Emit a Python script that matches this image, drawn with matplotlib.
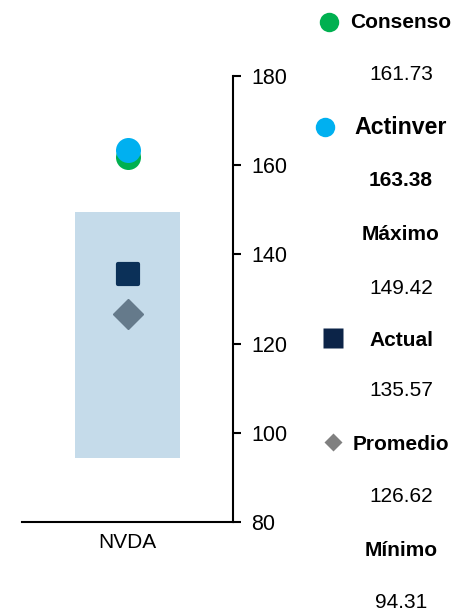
import matplotlib
matplotlib.use('Agg')
import matplotlib.pyplot as plt
from matplotlib.markers import MarkerStyle

plt.rcParams['font.family'] = ['Liberation Sans', 'DejaVu Sans']

# data
ticker = 'NVDA'
labels = ['Consenso', 'Actinver', 'Máximo', 'Actual', 'Promedio', 'Mínimo']
values = [161.73, 163.38, 149.42, 135.57, 126.62, 94.31]
consenso, actinver, maximo, actual, promedio, minimo = values
y_ticks = [80, 100, 120, 140, 160, 180]

c_green = '#00B050'
c_blue = '#00B0F0'
c_box = '#C5DBEA'
c_navy = '#0B3058'
c_diamond = '#657A8B'

fig = plt.figure(figsize=(4.67, 6.13), dpi=100)
ax = fig.add_axes([22 / 467, 1 - 522 / 613, 211 / 467, 446 / 613])

# range box min..max
ax.bar([0], [maximo - minimo], bottom=[minimo], width=0.5, color=c_box, zorder=1)
ax.plot([0], [promedio], marker='D', ms=15.5, color=c_diamond, mec=c_diamond, zorder=3)
sq = MarkerStyle('s', joinstyle='round')
ax.plot([0], [actual], marker=sq, ms=15, color=c_navy, mec=c_navy, mew=3, zorder=3)
ax.plot([0], [consenso], marker='o', ms=18, color=c_green, mec='none', zorder=4)
ax.plot([0], [actinver], marker='o', ms=18, color=c_blue, mec='none', zorder=5)

ax.set_xlim(-0.5, 0.5)
ax.set_ylim(80, 180)
ax.set_yticks(y_ticks)
ax.set_xticks([0])
ax.set_xticklabels([ticker], fontsize=15)
ax.yaxis.tick_right()
ax.tick_params(axis='y', direction='out', length=6, width=1.5, labelsize=15.5, pad=7)
ax.tick_params(axis='x', length=0, pad=8)
ax.spines['left'].set_visible(False)
ax.spines['top'].set_visible(False)
ax.spines['right'].set_linewidth(1.5)
ax.spines['bottom'].set_linewidth(1.5)

# legend panel drawn in pixel coordinates
lg = fig.add_axes([0, 0, 1, 1], facecolor='none')
lg.set_xlim(0, 467)
lg.set_ylim(613, 0)
lg.axis('off')

tx = 401
lg.plot([329], [22], marker='o', ms=14, color=c_green, mec='none')
lg.text(tx, 22, labels[0], ha='center', va='center', fontsize=15, fontweight='bold')
lg.text(tx, 75, f'{consenso:.2f}', ha='center', va='center', fontsize=15)
lg.plot([325], [127], marker='o', ms=14, color=c_blue, mec='none')
lg.text(tx, 128, labels[1], ha='center', va='center', fontsize=16.7, fontweight='bold')
lg.text(tx, 181, f'{actinver:.2f}', ha='center', va='center', fontsize=15, fontweight='bold')
lg.text(tx, 235, labels[2], ha='center', va='center', fontsize=15, fontweight='bold')
lg.text(tx, 288, f'{maximo:.2f}', ha='center', va='center', fontsize=15)
lg.plot([333], [338], marker='s', ms=14.5, color='#0C2448', mec='none')
lg.text(tx, 340, labels[3], ha='center', va='center', fontsize=15, fontweight='bold')
lg.text(tx, 390, f'{actual:.2f}', ha='center', va='center', fontsize=15)
lg.plot([333], [442], marker='D', ms=9, color='#808080', mec='none')
lg.text(tx, 444, labels[4], ha='center', va='center', fontsize=15, fontweight='bold')
lg.text(tx, 496, f'{promedio:.2f}', ha='center', va='center', fontsize=15)
lg.text(tx, 551, labels[5], ha='center', va='center', fontsize=15, fontweight='bold')
lg.text(tx, 603, f'{minimo:.2f}', ha='center', va='center', fontsize=15)

fig.savefig('out.png', dpi=100)
